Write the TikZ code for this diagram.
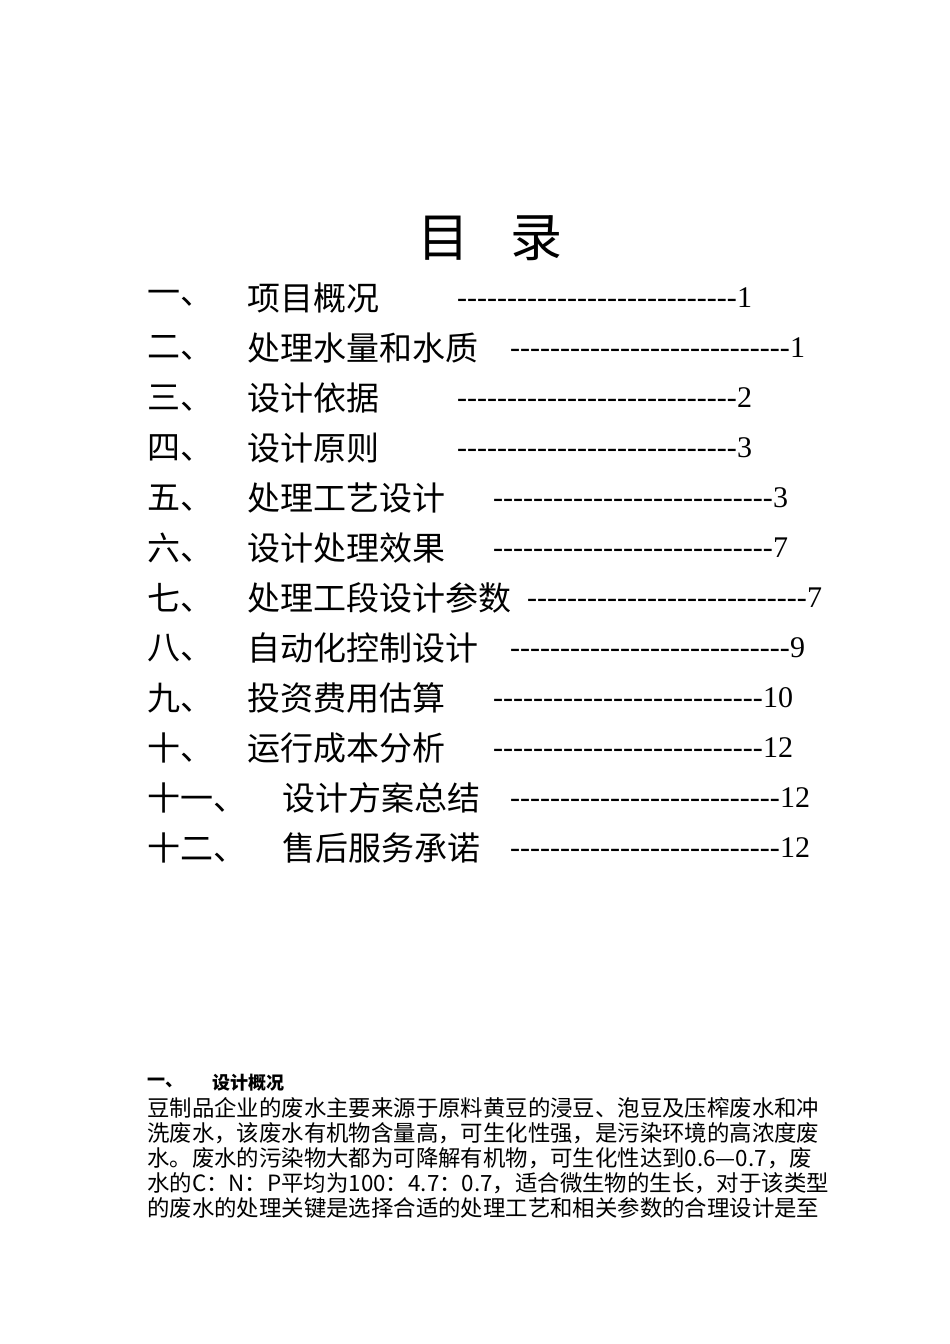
\documentclass[tikz,border=0pt]{standalone}
\usepackage{fontspec}
\setmainfont{Liberation Serif}
\newfontfamily\cjk{Noto Sans CJK SC}
\begin{document}
\begin{tikzpicture}[x=1pt,y=-1pt,
  toc/.style={anchor=west,inner sep=0pt,font=\cjk\fontsize{33}{33}\selectfont},
  para/.style={anchor=west,inner sep=0pt,font=\cjk\fontsize{22.4}{22}\selectfont}]
\useasboundingbox[fill=white] (0,0) rectangle (950,1344);
\node[inner sep=0pt,font=\cjk\fontsize{52}{52}\selectfont] (title) at (490,238) {目\hspace{0.8em}录};
\newcommand{\tocline}[7]{%
  \node[toc] (n#1) at (#2,#3) {#4};
  \node[toc] (t#1) at (#5,#3) {#6};
  \node[toc,font=\fontsize{30}{30}\selectfont] (d#1) at (#7) {\hbox to \dashw{\leaders\hbox{-}\hfill\dashn}};}
\newlength{\dashw}\def\dashn{}
\def\row#1#2#3#4#5#6#7#8#9{\setlength{\dashw}{#8pt}\def\dashn{#9}\tocline{#1}{#2}{#3}{#4}{#5}{#6}{#7,#3}}
\row{1}{147}{298}{一、}{247}{项目概况}{457}{295}{1}
\row{2}{147}{348}{二、}{247}{处理水量和水质}{510}{295}{1}
\row{3}{147}{398}{三、}{247}{设计依据}{457}{295}{2}
\row{4}{147}{448}{四、}{247}{设计原则}{457}{295}{3}
\row{5}{147}{498}{五、}{247}{处理工艺设计}{493}{295}{3}
\row{6}{147}{548}{六、}{247}{设计处理效果}{493}{295}{7}
\row{7}{147}{598}{七、}{247}{处理工段设计参数}{527}{295}{7}
\row{8}{147}{648}{八、}{247}{自动化控制设计}{510}{295}{9}
\row{9}{147}{698}{九、}{247}{投资费用估算}{493}{300}{10}
\row{10}{147}{748}{十、}{247}{运行成本分析}{493}{300}{12}
\row{11}{147}{798}{十一、}{282}{设计方案总结}{510}{300}{12}
\row{12}{147}{848}{十二、}{282}{售后服务承诺}{510}{300}{12}
\node[para,font=\cjk\bfseries\fontsize{18}{18}\selectfont] (h1) at (147,1083) {一、};
\node[para,font=\cjk\bfseries\fontsize{18}{18}\selectfont] (h2) at (212,1083) {设计概况};
\node[para] (p1) at (147,1108) {豆制品企业的废水主要来源于原料黄豆的浸豆、泡豆及压榨废水和冲};
\node[para] (p2) at (147,1133) {洗废水，该废水有机物含量高，可生化性强，是污染环境的高浓度废};
\node[para] (p3) at (147,1158) {水。废水的污染物大都为可降解有机物，可生化性达到0.6—0.7，废};
\node[para] (p4) at (147,1183) {水的C：N：P平均为100：4.7：0.7，适合微生物的生长，对于该类型};
\node[para] (p5) at (147,1208) {的废水的处理关键是选择合适的处理工艺和相关参数的合理设计是至};
\end{tikzpicture}
\end{document}
